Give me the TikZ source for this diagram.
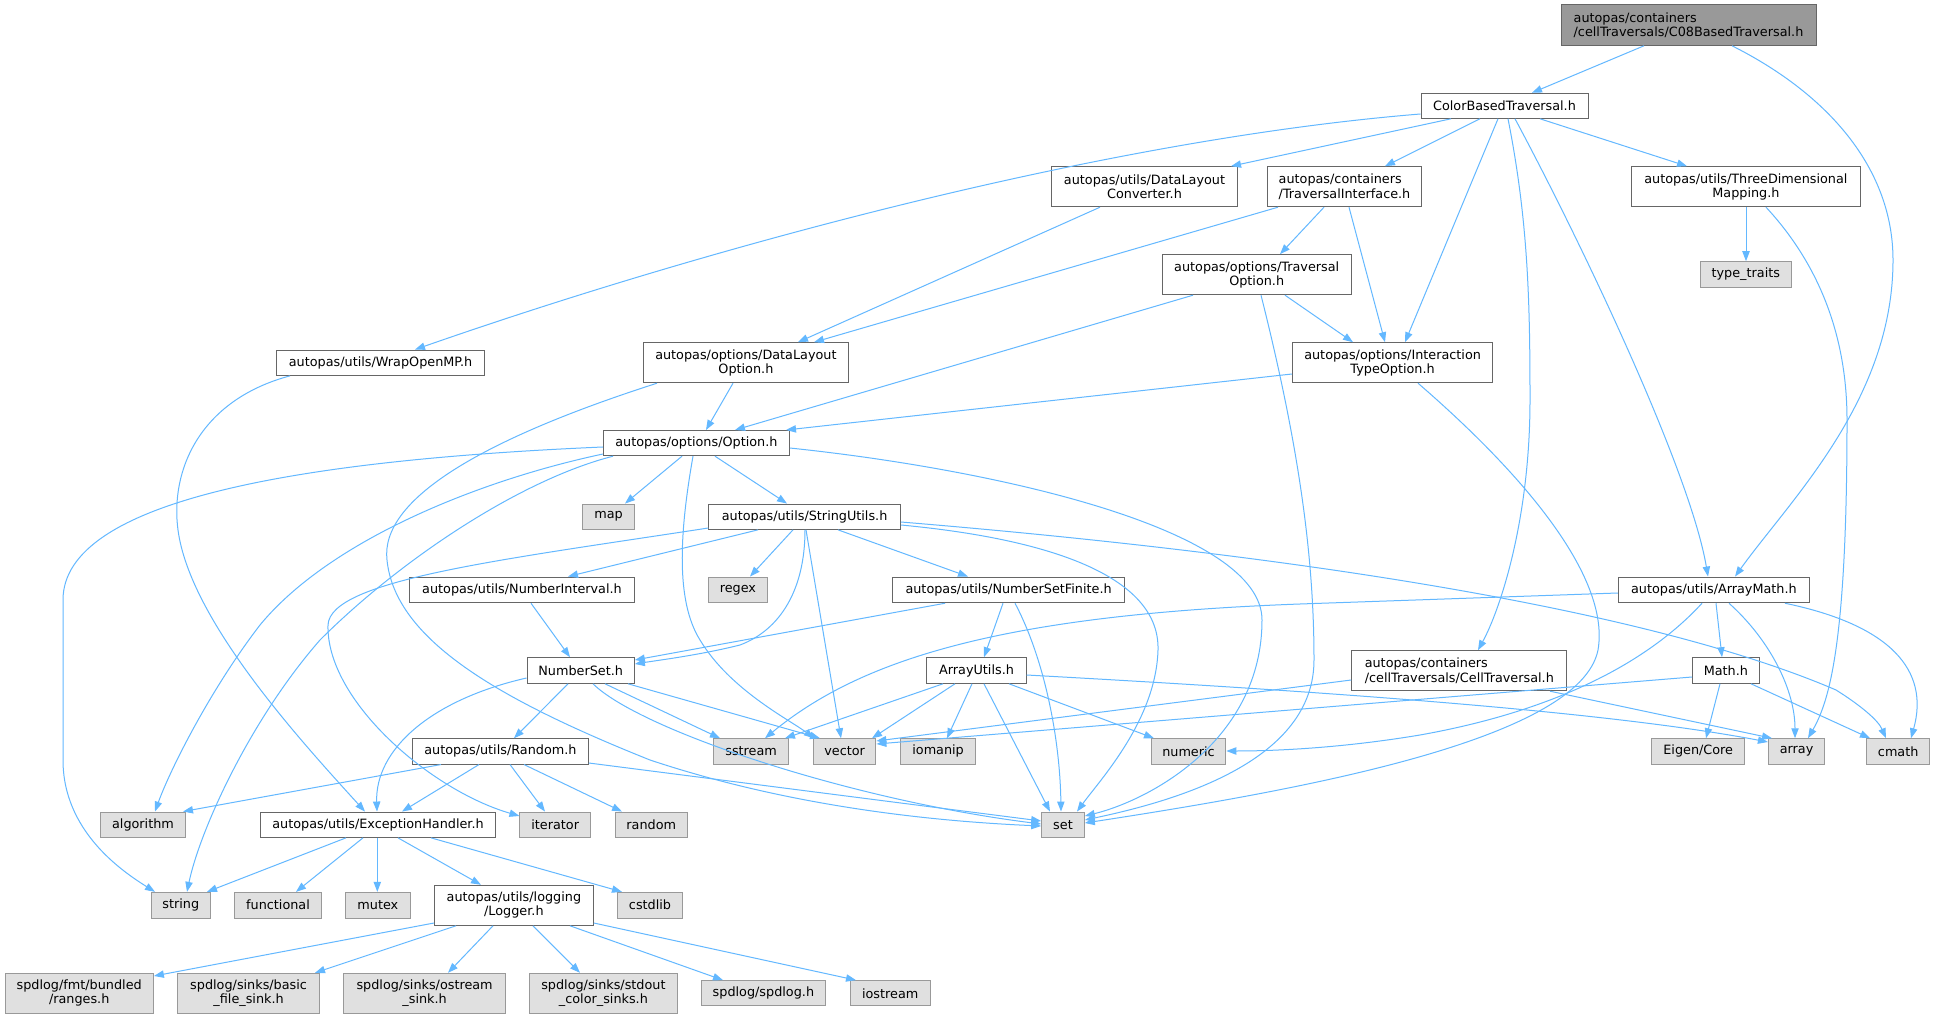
\documentclass[tikz,border=0pt]{standalone}
\usepackage{fontspec}
\setmainfont{DejaVu Sans}
\usetikzlibrary{arrows.meta,calc}
\definecolor{edgeblue}{HTML}{63B8FF}
\definecolor{bordergray}{HTML}{666666}
\definecolor{extborder}{HTML}{999999}
\definecolor{extfill}{HTML}{E0E0E0}
\definecolor{rootfill}{HTML}{999999}
\begin{document}
\begin{tikzpicture}[x=0.75pt,y=-0.75pt,
  box/.style={draw=bordergray, fill=white, line width=0.75pt, inner sep=0pt, align=center,
    font=\fontsize{9.6}{10.7}\selectfont, text=black},
  lbox/.style={box, align=left},
  ext/.style={box, draw=extborder, fill=extfill},
  rootbox/.style={box, align=left, draw=bordergray, fill=rootfill},
  sz/.style 2 args={minimum width=#1*0.75pt, minimum height=#2*0.75pt},
  edge/.style={draw=edgeblue, line width=0.75pt, -{Triangle[length=7.5pt,width=5.5pt]}}]
\fill[white] (0,0) rectangle (1935,1019);
\useasboundingbox (0,0) rectangle (1935,1019);

% ---------------- nodes ----------------
\node[rootbox, sz={255}{40.6}] (c08) at (1688.5,25) {autopas/containers\\/cellTraversals/C08BasedTraversal.h};
\node[box, sz={167}{25}] (cbt) at (1504.5,105.8) {ColorBasedTraversal.h};
\node[box, sz={185.7}{40}] (dlc) at (1144.5,186.7) {autopas/utils/DataLayout\\Converter.h};
\node[lbox, sz={154.5}{40}] (ti) at (1344.5,186.7) {autopas/containers\\/TraversalInterface.h};
\node[box, sz={229.3}{40}] (tdm) at (1745.9,186.7) {autopas/utils/ThreeDimensional\\Mapping.h};
\node[ext, sz={91.6}{25.6}] (tt) at (1745.8,274.5) {type\_traits};
\node[box, sz={189.3}{40}] (to) at (1256.7,274.7) {autopas/options/Traversal\\Option.h};
\node[box, sz={208.2}{25.3}] (womp) at (380.6,362.7) {autopas/utils/WrapOpenMP.h};
\node[box, sz={205.2}{40}] (dlo) at (745.9,362.7) {autopas/options/DataLayout\\Option.h};
\node[box, sz={200.2}{40}] (ito) at (1392.6,362.7) {autopas/options/Interaction\\TypeOption.h};
\node[box, sz={185.8}{25.2}] (opt) at (696.4,443.1) {autopas/options/Option.h};
\node[ext, sz={51.4}{25.3}] (map) at (608.6,516.7) {map};
\node[box, sz={191.6}{25.3}] (su) at (804.6,516.7) {autopas/utils/StringUtils.h};
\node[ext, sz={58.9}{25.7}] (regex) at (737.9,589.9) {regex};
\node[box, sz={224.7}{25.7}] (ni) at (522,589.9) {autopas/utils/NumberInterval.h};
\node[box, sz={231.3}{25.7}] (nsf) at (1008.6,589.9) {autopas/utils/NumberSetFinite.h};
\node[box, sz={191.2}{25.7}] (am) at (1713.9,589.9) {autopas/utils/ArrayMath.h};
\node[box, sz={107.3}{25.6}] (ns) at (580.7,670.5) {NumberSet.h};
\node[box, sz={99.1}{25.6}] (au) at (976.5,670.5) {ArrayUtils.h};
\node[lbox, sz={215.2}{40}] (ct) at (1459.3,670.7) {autopas/containers\\/cellTraversals/CellTraversal.h};
\node[box, sz={66.8}{25.6}] (mathh) at (1725.9,670.5) {Math.h};
\node[box, sz={175.8}{25.3}] (rnd) at (500.4,751.4) {autopas/utils/Random.h};
\node[ext, sz={74.6}{25.3}] (sstream) at (751.1,751.4) {sstream};
\node[ext, sz={62.6}{25.3}] (vector) at (844.6,751.4) {vector};
\node[ext, sz={74.6}{25.3}] (iomanip) at (938.1,751.4) {iomanip};
\node[ext, sz={74.6}{25.3}] (numeric) at (1188.5,751.4) {numeric};
\node[ext, sz={92.5}{25.3}] (eigen) at (1698.2,751.4) {Eigen/Core};
\node[ext, sz={56.4}{25.3}] (array) at (1796.6,751.4) {array};
\node[ext, sz={63}{25.3}] (cmath) at (1898.2,751.4) {cmath};
\node[ext, sz={85.4}{25.3}] (algorithm) at (143,824.7) {algorithm};
\node[box, sz={235.9}{25.3}] (eh) at (378,824.7) {autopas/utils/ExceptionHandler.h};
\node[ext, sz={70.5}{25.3}] (iterator) at (555.2,824.7) {iterator};
\node[ext, sz={72}{25.3}] (random) at (651.3,824.7) {random};
\node[ext, sz={42.7}{25.3}] (set) at (1063,824.7) {set};
\node[ext, sz={58.9}{25.7}] (string) at (180.8,905.2) {string};
\node[ext, sz={86.6}{25.7}] (functional) at (278,905.2) {functional};
\node[ext, sz={64.2}{25.7}] (mutex) at (377.9,905.2) {mutex};
\node[box, sz={158.8}{40}] (logger) at (513.9,905.3) {autopas/utils/logging\\/Logger.h};
\node[ext, sz={65.4}{25.7}] (cstdlib) at (650,905.2) {cstdlib};
\node[ext, sz={148.4}{40}] (ranges) at (79.2,993.3) {spdlog/fmt/bundled\\/ranges.h};
\node[ext, sz={141.3}{40}] (bfs) at (248.6,993.3) {spdlog/sinks/basic\\\_file\_sink.h};
\node[ext, sz={161.7}{40}] (oss) at (424.6,993.3) {spdlog/sinks/ostream\\\_sink.h};
\node[ext, sz={147.9}{40}] (scs) at (603.4,993.3) {spdlog/sinks/stdout\\\_color\_sinks.h};
\node[ext, sz={123.9}{25.3}] (spdlog) at (763.4,993.3) {spdlog/spdlog.h};
\node[ext, sz={80}{25.3}] (iostream) at (890.2,993.3) {iostream};

% ---------------- edges ----------------
\draw[edge] (c08.south -| 1644,0) -- (cbt.north -| 1532,0);
\draw[edge] (c08.south -| 1732,0) .. controls (1830,95) and (1893,170) .. (1893,260) .. controls (1893,400) and (1790,500) .. (am.north -| 1735,0);
\draw[edge] (cbt.west |- 0,114) .. controls (1100,140) and (700,250) .. (womp.north -| 415,0);
\draw[edge] (cbt.south -| 1451,0) -- (dlc.north -| 1231,0);
\draw[edge] (cbt.south -| 1480,0) -- (ti.north -| 1385,0);
\draw[edge] (cbt.south -| 1498,0) -- (ito.north -| 1405,0);
\draw[edge] (cbt.south -| 1508,0) .. controls (1528,220) and (1530,300) .. (1530,400) .. controls (1530,520) and (1500,610) .. (ct.north -| 1478,0);
\draw[edge] (cbt.south -| 1515,0) .. controls (1580,240) and (1690,470) .. (am.north -| 1708,0);
\draw[edge] (cbt.south -| 1540,0) -- (tdm.north -| 1687,0);
\draw[edge] (dlc.south -| 1100,0) -- (dlo.north -| 798,0);
\draw[edge] (ti.south -| 1278,0) -- (dlo.north -| 814,0);
\draw[edge] (ti.south -| 1324,0) -- (to.north -| 1280,0);
\draw[edge] (ti.south -| 1349,0) -- (ito.north -| 1385,0);
\draw[edge] (to.south -| 1193,0) -- (opt.north -| 735,0);
\draw[edge] (to.south -| 1285,0) -- (ito.north -| 1353,0);
\draw[edge] (to.south -| 1261,0) .. controls (1300,450) and (1314,560) .. (1314,660) .. controls (1314,760) and (1180,800) .. (set.east |- 0,820);
\draw[edge] (tdm.south -| 1746,0) -- (tt.north -| 1746,0);
\draw[edge] (tdm.south -| 1766,0) .. controls (1815,260) and (1847,330) .. (1847,420) .. controls (1847,640) and (1830,700) .. (array.north -| 1808,0);
\draw[edge] (womp.south -| 290,0) .. controls (200,400) and (170,470) .. (178,530) .. controls (190,620) and (300,740) .. (eh.north -| 365,0);
\draw[edge] (dlo.south -| 733,0) -- (opt.north -| 706,0);
\draw[edge] (dlo.south -| 657,0) .. controls (480,440) and (380,500) .. (387,560) .. controls (395,640) and (500,700) .. (650,760) .. controls (800,810) and (950,822) .. (set.west |- 0,826);
\draw[edge] (ito.west |- 0,374) -- (opt.north -| 786,0);
\draw[edge] (ito.south -| 1418,0) .. controls (1530,480) and (1610,580) .. (1598,650) .. controls (1580,740) and (1300,790) .. (set.east |- 0,823);
\draw[edge] (opt.south -| 682,0) -- (map.north -| 625,0);
\draw[edge] (opt.south -| 715,0) -- (su.north -| 787,0);
\draw[edge] (opt.west |- 0,447) .. controls (300,460) and (63,500) .. (63,600) -- (63,760) .. controls (63,830) and (120,870) .. (string.north -| 155,0);
\draw[edge] (opt.west |- 0,454) .. controls (480,480) and (330,540) .. (260,625) .. controls (210,690) and (170,770) .. (algorithm.north -| 155,0);
\draw[edge] (opt.south -| 613,0) .. controls (520,480) and (400,560) .. (320,640) .. controls (250,720) and (200,830) .. (string.north -| 187,0);
\draw[edge] (opt.south -| 693,0) .. controls (680,530) and (675,600) .. (700,640) .. controls (730,690) and (790,720) .. (vector.north -| 814,0);
\draw[edge] (opt.east |- 0,448) .. controls (1000,470) and (1262,530) .. (1262,620) .. controls (1262,740) and (1150,800) .. (set.east |- 0,816);
\draw[edge] (su.west |- 0,528) .. controls (500,560) and (330,580) .. (328,625) .. controls (326,700) and (430,790) .. (iterator.west |- 0,816);
\draw[edge] (su.south -| 758,0) -- (ni.north -| 568,0);
\draw[edge] (su.south -| 793,0) -- (regex.north -| 750,0);
\draw[edge] (su.south -| 805,0) .. controls (805,590) and (780,630) .. (740,645) .. controls (700,655) and (660,660) .. (ns.east |- 0,664);
\draw[edge] (su.south -| 806,0) -- (vector.north -| 841,0);
\draw[edge] (su.south -| 838,0) -- (nsf.north -| 968,0);
\draw[edge] (su.east |- 0,525) .. controls (1060,540) and (1160,580) .. (1158,650) .. controls (1156,720) and (1100,780) .. (set.north -| 1077,0);
\draw[edge] (su.east |- 0,522) .. controls (1300,555) and (1650,610) .. (1836,690) .. controls (1860,705) and (1878,720) .. (cmath.north -| 1886,0);
\draw[edge] (ni.south -| 531,0) -- (ns.north -| 570,0);
\draw[edge] (nsf.south -| 945,0) -- (ns.east |- 0,660);
\draw[edge] (nsf.south -| 1003,0) -- (au.north -| 984,0);
\draw[edge] (nsf.south -| 1015,0) .. controls (1045,660) and (1060,740) .. (set.north -| 1061,0);
\draw[edge] (ns.west |- 0,678) .. controls (430,700) and (375,750) .. (eh.north -| 377,0);
\draw[edge] (ns.south -| 568,0) -- (rnd.north -| 514,0);
\draw[edge] (ns.south -| 605,0) -- (sstream.north -| 720,0);
\draw[edge] (ns.south -| 628,0) -- (vector.north -| 820,0);
\draw[edge] (ns.south -| 593,0) .. controls (640,730) and (850,800) .. (set.west |- 0,824);
\draw[edge] (rnd.south -| 441,0) -- (algorithm.north -| 183,0);
\draw[edge] (rnd.south -| 479,0) -- (eh.north -| 402,0);
\draw[edge] (rnd.south -| 510,0) -- (iterator.north -| 545,0);
\draw[edge] (rnd.south -| 524,0) -- (random.north -| 622,0);
\draw[edge] (rnd.east |- 0,763) -- (set.west |- 0,821);
\draw[edge] (au.south -| 943,0) -- (sstream.north -| 785,0);
\draw[edge] (au.south -| 955,0) -- (vector.north -| 872,0);
\draw[edge] (au.south -| 972,0) -- (iomanip.north -| 947,0);
\draw[edge] (au.south -| 984,0) -- (set.north -| 1050,0);
\draw[edge] (au.south -| 1009,0) -- (numeric.north -| 1154,0);
\draw[edge] (au.east |- 0,675) .. controls (1300,690) and (1600,710) .. (array.west |- 0,742);
\draw[edge] (am.west |- 0,593) -- (1300,604) .. controls (1000,615) and (860,660) .. (sstream.north -| 765,0);
\draw[edge] (am.south -| 1702,0) .. controls (1650,660) and (1560,710) .. (1420,735) .. controls (1330,750) and (1260,751) .. (numeric.east |- 0,751);
\draw[edge] (am.south -| 1716,0) -- (mathh.north -| 1722,0);
\draw[edge] (am.south -| 1729,0) .. controls (1770,640) and (1795,690) .. (array.north -| 1795,0);
\draw[edge] (am.south -| 1785,0) .. controls (1890,625) and (1930,670) .. (cmath.north -| 1911,0);
\draw[edge] (mathh.south -| 1720,0) -- (eigen.north -| 1706,0);
\draw[edge] (mathh.south -| 1751,0) -- (cmath.north -| 1870,0);
\draw[edge] (mathh.west |- 0,677) -- (vector.east |- 0,744);
\draw[edge] (ct.west |- 0,680) -- (vector.east |- 0,741);
\draw[edge] (ct.south -| 1550,0) -- (array.north -| 1772,0);
\draw[edge] (eh.south -| 346,0) -- (string.north -| 207,0);
\draw[edge] (eh.south -| 363,0) -- (functional.north -| 296,0);
\draw[edge] (eh.south -| 377.3,0) -- (mutex.north -| 377.3,0);
\draw[edge] (eh.south -| 398,0) -- (logger.north -| 481,0);
\draw[edge] (eh.south -| 431,0) -- (cstdlib.north -| 622,0);
\draw[edge] (logger.west |- 0,923) -- (ranges.east |- 0,976);
\draw[edge] (logger.south -| 456,0) -- (bfs.north -| 315,0);
\draw[edge] (logger.south -| 493,0) -- (oss.north -| 448,0);
\draw[edge] (logger.south -| 533,0) -- (scs.north -| 580,0);
\draw[edge] (logger.south -| 570,0) -- (spdlog.north -| 723,0);
\draw[edge] (logger.east |- 0,923) -- (iostream.north -| 856,0);
\end{tikzpicture}
\end{document}
